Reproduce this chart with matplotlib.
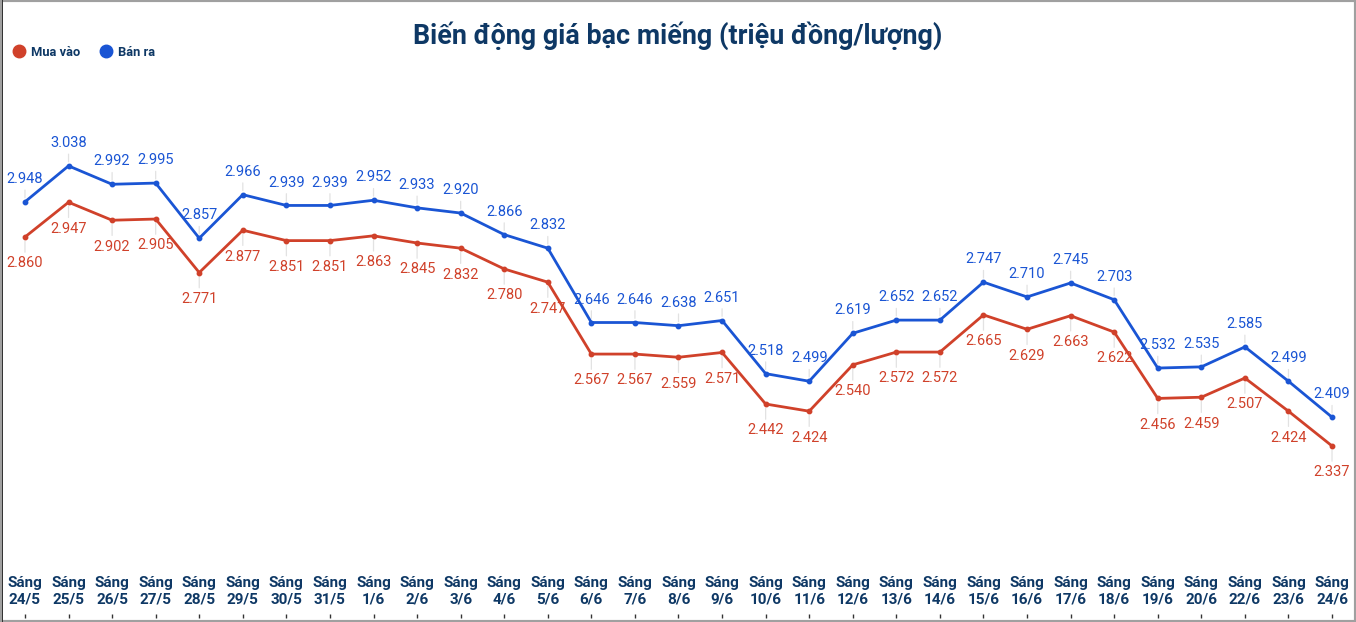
import matplotlib
matplotlib.use("Agg")
import matplotlib.pyplot as plt
from matplotlib.lines import Line2D
from matplotlib.patches import Rectangle

plt.rcParams['font.family'] = ['Roboto', 'DejaVu Sans']

# du lieu
dates = ['24/5', '25/5', '26/5', '27/5', '28/5', '29/5', '30/5', '31/5', '1/6', '2/6',
         '3/6', '4/6', '5/6', '6/6', '7/6', '8/6', '9/6', '10/6', '11/6', '12/6',
         '13/6', '14/6', '15/6', '16/6', '17/6', '18/6', '19/6', '20/6', '22/6', '23/6', '24/6']
mua_vao = [2.860, 2.947, 2.902, 2.905, 2.771, 2.877, 2.851, 2.851, 2.863, 2.845,
           2.832, 2.780, 2.747, 2.567, 2.567, 2.559, 2.571, 2.442, 2.424, 2.540,
           2.572, 2.572, 2.665, 2.629, 2.663, 2.622, 2.456, 2.459, 2.507, 2.424, 2.337]
ban_ra = [2.948, 3.038, 2.992, 2.995, 2.857, 2.966, 2.939, 2.939, 2.952, 2.933,
          2.920, 2.866, 2.832, 2.646, 2.646, 2.638, 2.651, 2.518, 2.499, 2.619,
          2.652, 2.652, 2.747, 2.710, 2.745, 2.703, 2.532, 2.535, 2.585, 2.499, 2.409]

RED = '#d0412a'
BLUE = '#1a55d4'
NAVY = '#0e3865'

W, H = 1356, 622
fig = plt.figure(figsize=(W / 100, H / 100), dpi=100)
ax = fig.add_axes([2 / W, 1 - 614 / H, 1350 / W, (614 - 80) / H])

x = list(range(len(dates)))
ax.plot(x, mua_vao, color=RED, lw=2, marker='o', ms=3.2, zorder=3)
ax.plot(x, ban_ra, color=BLUE, lw=2, marker='o', ms=3.2, zorder=3)

arrow = dict(arrowstyle='-', color='#e2e2e2', lw=0.9, shrinkA=1, shrinkB=3)
for i in x:
    ax.annotate(f'{mua_vao[i]:.3f}', (i, mua_vao[i]), xytext=(0, -19), textcoords='offset points',
                ha='center', va='center', color=RED, fontsize=10.5, arrowprops=arrow, zorder=2)
    ax.annotate(f'{ban_ra[i]:.3f}', (i, ban_ra[i]), xytext=(0, 16.5), textcoords='offset points',
                ha='center', va='center', color=BLUE, fontsize=10.5, arrowprops=arrow, zorder=2)

ax.set_xlim(-23 / 43.63, 30 + 20 / 43.63)
ax.set_ylim(1.9164, 3.253)
ax.set_yticks([])
ax.set_xticks(x)
ax.set_xticklabels(['Sáng\n' + d for d in dates], fontsize=11, fontweight='bold',
                   color=NAVY, linespacing=1.2)
ax.tick_params(axis='x', direction='out', length=3, width=1, color='#333333', pad=-30)
for s in ax.spines.values():
    s.set_visible(False)

fig.suptitle('Biến động giá bạc miếng (triệu đồng/lượng)', x=0.5, y=1 - 36 / H, va='center',
             fontsize=19.4, fontweight='bold', color=NAVY)

handles = [Line2D([], [], ls='none', marker='o', ms=9, color=RED),
           Line2D([], [], ls='none', marker='o', ms=9, color=BLUE)]
leg = fig.legend(handles, ['Mua vào', 'Bán ra'], loc='center left', bbox_to_anchor=(0.0, 1 - 52 / H),
                 ncol=2, frameon=False, handletextpad=0.3, columnspacing=1.4, handlelength=1.2,
                 prop={'weight': 'bold', 'size': 9.3})
for t in leg.get_texts():
    t.set_color(NAVY)

# khung
fig.patches.append(Rectangle((0, 0), 1, 1, transform=fig.transFigure, fill=False,
                             edgecolor='#a0a0a0', lw=3))
fig.patches.append(Rectangle((2 / W, 0), 0.0008, 1, transform=fig.transFigure,
                             color='#333333', lw=0))

fig.savefig('out.png', dpi=100)
